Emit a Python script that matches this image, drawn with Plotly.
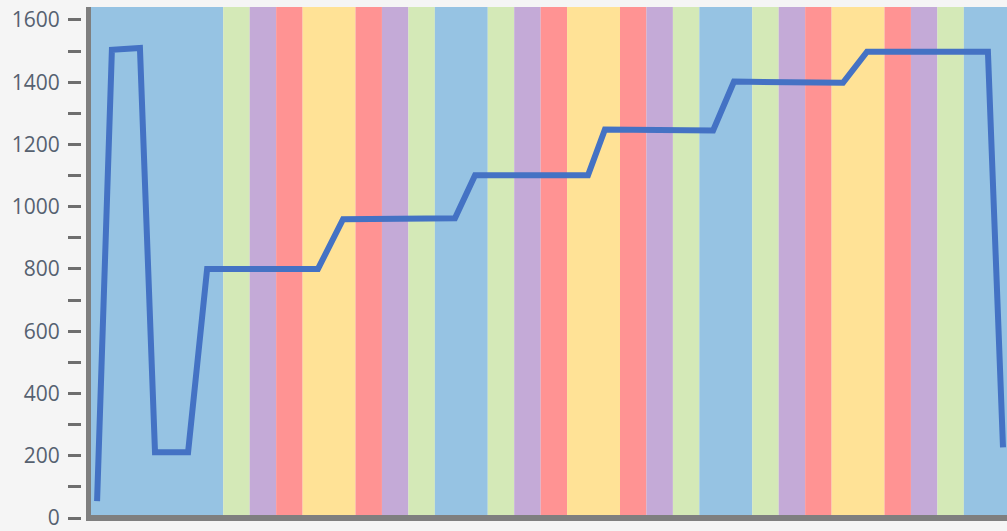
import plotly.graph_objects as go

# ---- data ----
line_x = [0.23, 0.79, 1.85, 2.42, 3.67, 4.39, 8.58, 9.53, 13.76, 14.52, 18.79,
          19.43, 23.52, 24.31, 28.43, 29.34, 33.91, 34.48]
line_y = [54, 1504, 1510, 211, 211, 800, 800, 960, 963, 1101, 1101,
          1248, 1245, 1402, 1398, 1498, 1498, 227]

band_start = [0, 5, 6, 7, 8, 10, 11, 12, 13, 15, 16, 17, 18, 20, 21, 22, 23,
              25, 26, 27, 28, 30, 31, 32, 33]
band_end = band_start[1:] + [36]
band_kind = ["blue", "green", "purple", "red", "yellow", "red", "purple", "green",
             "blue", "green", "purple", "red", "yellow", "red", "purple", "green",
             "blue", "green", "purple", "red", "yellow", "red", "purple", "green",
             "blue"]

y_ticks = [0, 200, 400, 600, 800, 1000, 1200, 1400, 1600]

# ---- styles ----
band_colors = {"blue": "#96C3E3", "green": "#D4E9B7", "purple": "#C4AAD7",
               "red": "#FF9393", "yellow": "#FFE296"}

W, H = 1007, 531
ML, MT, MB = 0, 7, 11
plot_left = 91

fig = go.Figure()
fig.add_trace(go.Scatter(x=line_x, y=line_y, mode="lines",
                         line=dict(color="#4472C4", width=6),
                         hoverinfo="skip", showlegend=False))

shapes = []
for s, e, k in zip(band_start, band_end, band_kind):
    shapes.append(dict(type="rect", xref="x", yref="paper", x0=s, x1=e, y0=0, y1=1,
                       fillcolor=band_colors[k], line=dict(width=0), layer="below"))

ph = H - MT - MB
# left axis bar
shapes.append(dict(type="line", xref="paper", yref="paper",
                   x0=88.5 / W, x1=88.5 / W, y0=-3 / ph, y1=1,
                   line=dict(color="#7F7F7F", width=5)))
# bottom axis bar
shapes.append(dict(type="line", xref="paper", yref="paper",
                   x0=86 / W, x1=1, y0=0, y1=0,
                   line=dict(color="#7F7F7F", width=6)))

x_max = (W - plot_left) / 26.45
y_max = (H - MT - MB) / 0.3125

fig.update_layout(
    width=W, height=H,
    margin=dict(l=ML, r=0, t=MT, b=MB, pad=0),
    paper_bgcolor="#F5F5F5", plot_bgcolor="#F5F5F5",
    shapes=shapes,
    xaxis=dict(domain=[plot_left / W, 1], range=[0, x_max], showgrid=False,
               zeroline=False, showticklabels=False, ticks="", showline=False),
    yaxis=dict(range=[0, y_max], anchor="free", position=81 / W,
               tickvals=y_ticks, ticktext=[str(v) for v in y_ticks],
               ticks="outside", ticklen=13, tickwidth=3, tickcolor="#6E6E6E",
               minor=dict(dtick=100, ticks="outside", ticklen=13, tickwidth=3,
                          tickcolor="#6E6E6E", showgrid=False),
               ticklabelstandoff=4, ticklabeloverflow="allow",
               showgrid=False, zeroline=False, showline=False,
               tickfont=dict(family="Open Sans", size=21, color="#566170")),
)

fig.write_html("out.html")
